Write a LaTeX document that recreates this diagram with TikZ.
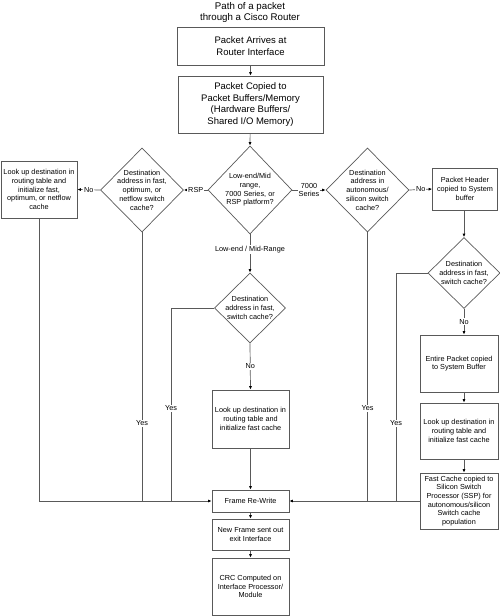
\documentclass[tikz,border=0pt]{standalone}
\usepackage{fontspec}
\setmainfont{Liberation Sans}
\usetikzlibrary{shapes.geometric,arrows.meta}
\begin{document}
\begin{tikzpicture}[x=1pt,y=-1pt,
  bx/.style={draw=black!65, line width=0.7pt, inner sep=0pt, align=center, font=\fontsize{7.3}{8.7}\selectfont},
  bigbx/.style={bx, font=\fontsize{9.5}{11.5}\selectfont},
  dm/.style={diamond, draw=black!65, line width=0.7pt, inner sep=0pt},
  dtxt/.style={align=center, font=\fontsize{7.3}{8.7}\selectfont, inner sep=0pt},
  ln/.style={draw=black!65, line width=0.7pt},
  ar/.style={ln, -{Latex[length=3.5pt,width=3pt,color=black]}},
  lbl/.style={fill=white, inner sep=1pt, font=\fontsize{7.3}{8.7}\selectfont, align=center},
]
\useasboundingbox (0,0) rectangle (500,616);

% title
\node[align=center, font=\fontsize{9.7}{11}\selectfont] (title) at (250,12) {Path of a packet\\through a Cisco Router};

% top boxes
\node[bigbx, minimum width=147pt, minimum height=38pt] (b1) at (250.5,46) {Packet Arrives at\\Router Interface};
\node[bigbx, minimum width=145pt, minimum height=57pt] (b2) at (250.5,104.5) {Packet Copied to\\Packet Buffers/Memory\\(Hardware Buffers/\\Shared I/O Memory)};

% diamonds
\node[dm, minimum width=84pt, minimum height=88pt] (dc) at (250,190) {};
\node[dtxt] (dct) at (dc) {Low-end/Mid\\range,\\7000 Series, or\\RSP platform?};
\node[dm, minimum width=83pt, minimum height=84pt] (dl) at (142,190) {};
\node[dtxt] (dlt) at (dl) {Destination\\address in fast,\\optimum, or\\netflow switch\\cache?};
\node[dm, minimum width=83pt, minimum height=84pt] (da) at (367.5,190) {};
\node[dtxt] (dat) at (da) {Destination\\address in\\autonomous/\\silicon switch\\cache?};
\node[dm, minimum width=71pt, minimum height=70pt] (d3) at (250,308) {};
\node[dtxt] (d3t) at (d3) {Destination\\address in fast,\\switch cache?};
\node[dm, minimum width=72pt, minimum height=71pt] (d5) at (464,273) {};
\node[dtxt] (d5t) at (d5) {Destination\\address in fast,\\switch cache?};

% boxes
\node[bx, minimum width=76pt, minimum height=57pt] (lb) at (39,189.5) {Look up destination in\\routing table and\\initialize fast,\\optimum, or netflow\\cache};
\node[bx, minimum width=65pt, minimum height=42pt] (ph) at (465,189) {Packet Header\\copied to System\\buffer};
\node[bx, minimum width=77pt, minimum height=58pt] (b3) at (250.5,419) {Look up destination in\\routing table and\\initialize fast cache};
\node[bx, minimum width=78pt, minimum height=57pt] (ep) at (459,363.5) {Entire Packet copied\\to System Buffer};
\node[bx, minimum width=78pt, minimum height=56pt] (rl) at (459,431) {Look up destination in\\routing table and\\initialize fast cache};
\node[bx, minimum width=78pt, minimum height=56pt] (ssp) at (459,501) {Fast Cache copied to\\Silicon Switch\\Processor (SSP) for\\autonomous/silicon\\Switch cache\\population};
\node[bx, minimum width=77pt, minimum height=22pt] (fr) at (250.5,501) {Frame Re-Write};
\node[bx, minimum width=77pt, minimum height=31pt] (nf) at (250.5,534.5) {New Frame sent out\\exit Interface};
\node[bx, minimum width=77pt, minimum height=57pt] (crc) at (250.5,586.5) {CRC Computed on\\Interface Processor/\\Module};

% coordinates
\coordinate (jl1) at (39,501);
\coordinate (jl2) at (142,501);
\coordinate (jl3) at (171,501);
\coordinate (c3) at (171,308);
\coordinate (jr1) at (367.5,501);
\coordinate (jr2) at (396,501);
\coordinate (c5) at (396,273);

% main flow
\draw[ar] (b1) -- (b2);
\draw[ar] (b2) -- (dc.north);
\draw[ar] (dc.west) -- node[lbl]{RSP} (dl.east);
\draw[ar] (dl.west) -- node[lbl]{No} (lb.east);
\draw[ar] (dc.east) -- node[lbl]{7000\\Series} (da.west);
\draw[ar] (da.east) -- node[lbl]{No} (ph.west);
\draw[ar] (dc.south) -- node[lbl, pos=0.4]{Low-end / Mid-Range} (d3.north);
\draw[ar] (d3.south) -- node[lbl]{No} (b3.north);
\draw[ar] (b3.south) -- (fr.north);
\draw[ar] (fr.south) -- (nf.north);
\draw[ar] (nf.south) -- (crc.north);

% right chain
\draw[ar] (d5.north |- ph.south) -- (d5.north);
\draw[ar] (d5.south) -- node[lbl]{No} (d5.south |- ep.north);
\draw[ar] (ep.south -| d5.south) -- (rl.north -| d5.south);
\draw[ar] (rl.south -| d5.south) -- (ssp.north -| d5.south);

% yes paths left
\draw[ar] (lb.south) -- (jl1) -- (fr.west);
\draw[ln] (dl.south) -- node[lbl, pos=0.71]{Yes} (jl2);
\draw[ln] (d3.west) -- (c3) -- node[lbl, pos=0.52]{Yes} (jl3);

% yes paths right
\draw[ar] (ssp.west) -- (fr.east);
\draw[ln] (da.south) -- node[lbl, pos=0.654]{Yes} (jr1);
\draw[ln] (d5.west) -- (c5) -- node[lbl, pos=0.66]{Yes} (jr2);
\end{tikzpicture}
\end{document}
